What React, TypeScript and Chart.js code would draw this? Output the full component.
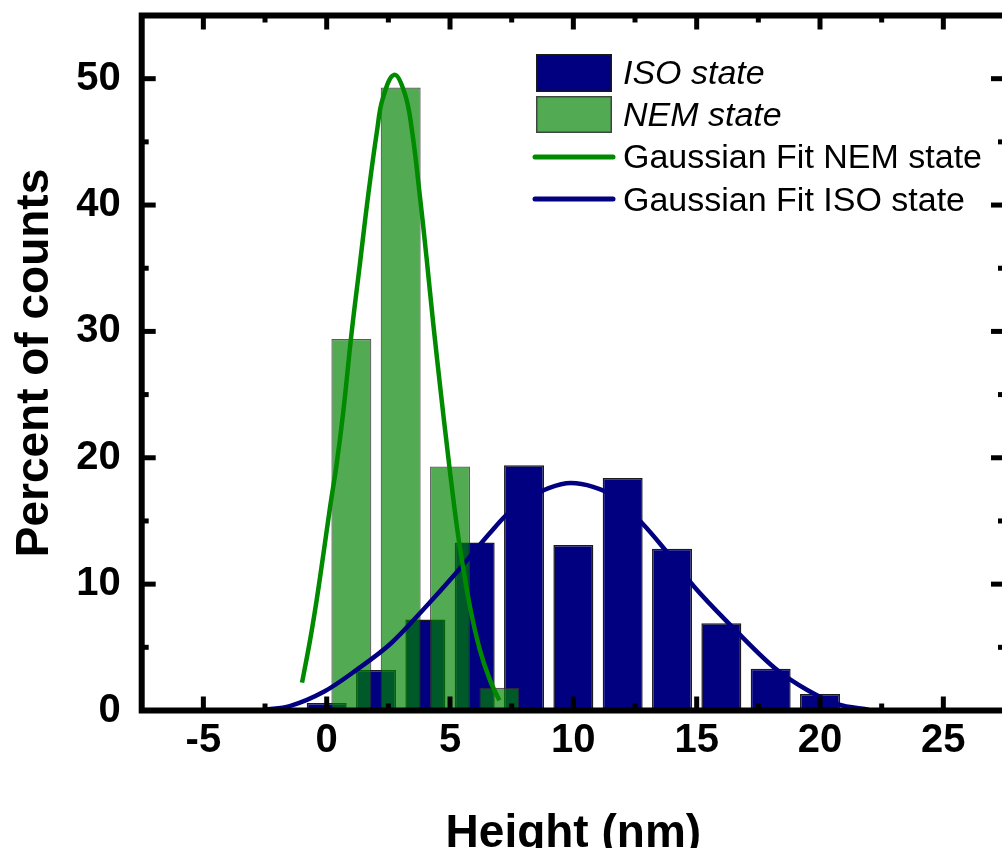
import React, { useEffect, useRef } from "react";
import { Chart, registerables } from "chart.js";

Chart.register(...registerables);

// ---- data ----
const isoCenters = [0, 2, 4, 6, 8, 10, 12, 14, 16, 18, 20];
const isoPercent = [0.6, 3.2, 7.2, 13.3, 19.4, 13.1, 18.4, 12.8, 6.9, 3.3, 1.3];

const nemCenters = [1, 3, 5, 7];
const nemPercent = [29.4, 49.3, 19.3, 1.8];

const nemFitX = [-1.0, -0.68, -0.41, -0.14, 0.13, 0.41, 0.67, 1.01, 1.35, 1.69, 2.05, 2.27, 2.73, 3.17, 3.45, 3.75, 4.05, 4.32, 4.66, 4.86, 5.13, 5.4, 5.81, 6.21, 6.62, 7.0];
const nemFitY = [2.2, 5.5, 8.7, 12.3, 16.0, 19.6, 23.6, 29.9, 35.4, 40.9, 46.0, 48.4, 50.3, 48.8, 46.0, 41.2, 35.8, 30.6, 24.6, 21.2, 16.8, 12.9, 8.2, 4.8, 2.4, 0.8];

const isoFitX = [-2.5, -1.5, -0.1, 1.2, 2.6, 3.9, 5.3, 6.6, 7.3, 8.2, 9.0, 9.9, 10.8, 11.6, 12.8, 13.6, 14.9, 16.3, 18.2, 19.5, 20.7, 22.0];
const isoFitY = [0.05, 0.35, 1.5, 3.2, 5.3, 7.95, 11.0, 14.0, 15.5, 16.8, 17.6, 18.0, 17.7, 17.0, 14.8, 13.0, 9.8, 6.9, 3.3, 1.6, 0.5, 0.05];

const xMajorTicks = [-5, 0, 5, 10, 15, 20, 25];
const xMinorTicks = [-2.5, 2.5, 7.5, 12.5, 17.5, 22.5];
const yMajorTicks = [0, 10, 20, 30, 40, 50];
const yMinorTicks = [5, 15, 25, 35, 45];

const legendLabels = ["ISO state", "NEM state", "Gaussian Fit NEM state", "Gaussian Fit ISO state"];

const xTitle = "Height (nm)";
const yTitle = "Percent of counts";

// ---- styles ----
const NAVY = "#000080";
const NEM_FILL = "rgba(0,131,0,0.68)";
const NEM_LINE = "#008a00";
const FONT = "'Liberation Sans', Arial, Helvetica, sans-serif";

const framePlugin = {
  id: "frame",
  afterDatasetsDraw(chart: any) {
    const { ctx, chartArea: a, scales } = chart;
    const xs = scales.x;
    const ys = scales.y;
    const major = 14;
    const minor = 7;
    ctx.save();
    ctx.strokeStyle = "#000";
    ctx.lineCap = "butt";
    ctx.lineWidth = 5;
    const seg = (x1: number, y1: number, x2: number, y2: number) => {
      ctx.beginPath();
      ctx.moveTo(x1, y1);
      ctx.lineTo(x2, y2);
      ctx.stroke();
    };
    const xt = (vals: number[], len: number) => {
      vals.forEach((v) => {
        const px = xs.getPixelForValue(v);
        seg(px, a.bottom, px, a.bottom - len);
        seg(px, a.top, px, a.top + len);
      });
    };
    const yt = (vals: number[], len: number) => {
      vals.forEach((v) => {
        const py = ys.getPixelForValue(v);
        seg(a.left, py, a.left + len, py);
        seg(a.right, py, a.right - len, py);
      });
    };
    xt(xMajorTicks, major);
    xt(xMinorTicks, minor);
    yt(yMajorTicks, major);
    yt(yMinorTicks, minor);
    ctx.lineWidth = 6;
    ctx.lineJoin = "miter";
    ctx.strokeRect(a.left, a.top, a.right - a.left, a.bottom - a.top);
    ctx.restore();
  },
};

const legendPlugin = {
  id: "customLegend",
  afterDraw(chart: any) {
    const { ctx } = chart;
    ctx.save();
    const boxX = 536;
    const boxW = 76;
    const boxes = [
      { y: 54, h: 38, fill: NAVY, stroke: "#1a1a1a" },
      { y: 96, h: 37, fill: NEM_FILL, stroke: "rgba(60,60,60,0.9)" },
    ];
    boxes.forEach((b) => {
      ctx.fillStyle = b.fill;
      ctx.fillRect(boxX, b.y, boxW, b.h);
      ctx.lineWidth = 1.5;
      ctx.strokeStyle = b.stroke;
      ctx.strokeRect(boxX + 0.75, b.y + 0.75, boxW - 1.5, b.h - 1.5);
    });
    ctx.lineCap = "round";
    ctx.lineWidth = 5;
    ctx.strokeStyle = NEM_LINE;
    ctx.beginPath();
    ctx.moveTo(535, 157);
    ctx.lineTo(613, 157);
    ctx.stroke();
    ctx.strokeStyle = NAVY;
    ctx.beginPath();
    ctx.moveTo(535, 199);
    ctx.lineTo(613, 199);
    ctx.stroke();
    ctx.fillStyle = "#000";
    ctx.textAlign = "left";
    ctx.textBaseline = "alphabetic";
    const tx = 623;
    ctx.font = `italic 34px ${FONT}`;
    ctx.fillText(legendLabels[0], tx, 84);
    ctx.fillText(legendLabels[1], tx, 126);
    ctx.font = `34px ${FONT}`;
    ctx.fillText(legendLabels[2], tx, 168);
    ctx.fillText(legendLabels[3], tx, 211);
    ctx.restore();
  },
};

export default function App() {
  const canvasRef = useRef<HTMLCanvasElement | null>(null);

  useEffect(() => {
    const canvas = canvasRef.current;
    if (!canvas) return;
    const chart = new Chart(canvas, {
      type: "bar",
      data: {
        datasets: [
          {
            type: "line",
            label: legendLabels[2],
            data: nemFitX.map((x, i) => ({ x, y: nemFitY[i] })),
            borderColor: NEM_LINE,
            borderWidth: 4.5,
            pointRadius: 0,
            fill: false,
            tension: 0.4,
          } as any,
          {
            type: "line",
            label: legendLabels[3],
            data: isoFitX.map((x, i) => ({ x, y: isoFitY[i] })),
            borderColor: NAVY,
            borderWidth: 4.5,
            pointRadius: 0,
            fill: false,
            cubicInterpolationMode: "monotone",
          } as any,
          {
            type: "bar",
            label: legendLabels[1],
            data: nemCenters.map((x, i) => ({ x, y: nemPercent[i] })),
            backgroundColor: NEM_FILL,
            borderColor: "rgba(50,50,50,0.8)",
            borderWidth: 1.2,
            grouped: false,
            categoryPercentage: 1,
            barPercentage: 1.62,
          } as any,
          {
            type: "bar",
            label: legendLabels[0],
            data: isoCenters.map((x, i) => ({ x, y: isoPercent[i] })),
            backgroundColor: NAVY,
            borderColor: "#1a1a1a",
            borderWidth: 1.5,
            grouped: false,
            categoryPercentage: 1,
            barPercentage: 1.62,
          } as any,
        ],
      },
      options: {
        responsive: false,
        animation: false,
        devicePixelRatio: 1,
        events: [],
        layout: { padding: { left: 0, right: 5, top: 15.5, bottom: 0 } },
        plugins: {
          legend: { display: false },
          tooltip: { enabled: false },
        },
        scales: {
          x: {
            type: "linear",
            min: -7.5,
            max: 27.5,
            offset: false,
            grid: { display: false, drawTicks: false, offset: false },
            border: { display: false },
            afterBuildTicks: (scale: any) => {
              scale.ticks = xMajorTicks.map((v) => ({ value: v }));
            },
            afterFit: (scale: any) => {
              scale.height = 169.5;
              scale.paddingLeft = 0;
              scale.paddingRight = 0;
            },
            ticks: {
              padding: 10,
              color: "#000",
              maxRotation: 0,
              autoSkip: false,
              font: { family: FONT, size: 40, weight: "bold", lineHeight: 1 },
              callback: (v: any) => String(v),
            },
            title: {
              display: true,
              text: xTitle,
              color: "#000",
              font: { family: FONT, size: 46, weight: "bold", lineHeight: 1 },
              padding: { top: 0, bottom: 23 },
            },
          },
          y: {
            type: "linear",
            min: 0,
            max: 55,
            grid: { display: false, drawTicks: false },
            border: { display: false },
            afterBuildTicks: (scale: any) => {
              scale.ticks = yMajorTicks.map((v) => ({ value: v }));
            },
            afterFit: (scale: any) => {
              scale.width = 141.7;
              scale.paddingTop = 0;
              scale.paddingBottom = 0;
            },
            ticks: {
              padding: 21,
              color: "#000",
              font: { family: FONT, size: 40, weight: "bold", lineHeight: 1 },
              callback: (v: any) => String(v),
            },
            title: {
              display: true,
              text: yTitle,
              color: "#000",
              font: { family: FONT, size: 46, weight: "bold", lineHeight: 1 },
              padding: { top: 12, bottom: 0 },
            },
          },
        },
      } as any,
      plugins: [framePlugin, legendPlugin],
    });
    return () => chart.destroy();
  }, []);

  return (
    <div
      style={{
        position: "fixed",
        left: 0,
        top: 0,
        width: 1002,
        height: 848,
        overflow: "hidden",
        background: "#fff",
      }}
    >
      <canvas ref={canvasRef} width={1010} height={880} style={{ display: "block", width: 1010, height: 880 }} />
    </div>
  );
}
